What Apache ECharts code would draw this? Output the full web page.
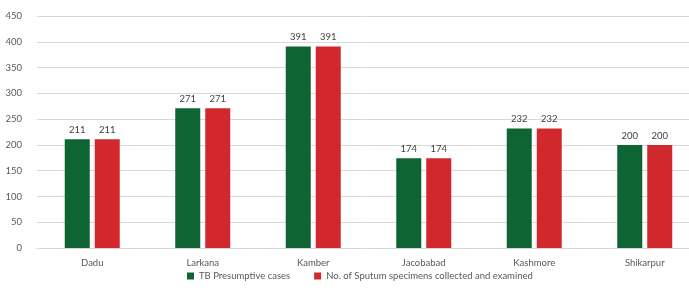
<!DOCTYPE html>
<html>
<head>
<meta charset="utf-8">
<script src="https://cdn.jsdelivr.net/npm/echarts@6/dist/echarts.min.js"></script>
<style>
  html, body { margin: 0; padding: 0; background: #fff; }
  #mainChart { width: 689px; height: 288px; }
</style>
</head>
<body>
<div id="mainChart"></div>
<script>
var districts = ['Dadu', 'Larkana', 'Kamber', 'Jacobabad', 'Kashmore', 'Shikarpur'];
var presumptiveCases = [211, 271, 391, 174, 232, 200];
var sputumSpecimens = [211, 271, 391, 174, 232, 200];
var seriesNames = ['TB Presumptive cases', 'No. of Sputum specimens collected and examined'];

var fontName = 'Lato';

function chartInit() {
  var myChart = echarts.init(document.getElementById('mainChart'));

  var option = {
    animation: false,
    textStyle: { fontFamily: fontName },
    grid: { left: 37, width: 663, top: 16, bottom: 40, outerBoundsMode: 'none' },
    legend: {
      bottom: 2,
      left: 182,
      itemWidth: 7,
      itemHeight: 7,
      itemGap: 24,
      icon: 'rect',
      textStyle: { fontSize: 9.5, color: '#595959', fontFamily: fontName },
      data: seriesNames
    },
    xAxis: {
      type: 'category',
      data: districts,
      axisLine: { show: true, lineStyle: { color: '#d9d9d9', width: 1 } },
      axisTick: { show: false },
      axisLabel: { color: '#595959', fontSize: 9.5, margin: 10 }
    },
    yAxis: {
      type: 'value',
      min: 0,
      max: 450,
      interval: 50,
      axisLine: { show: false },
      axisTick: { show: false },
      axisLabel: { color: '#595959', fontSize: 9.5, margin: 15 },
      splitLine: { lineStyle: { color: '#d9d9d9', width: 1 } }
    },
    series: [
      {
        name: seriesNames[0],
        type: 'bar',
        data: presumptiveCases,
        barWidth: 25,
        barGap: '20%',
        itemStyle: { color: '#0f6434' },
        label: { show: true, position: 'top', fontSize: 9.5, color: '#404040', distance: 4 }
      },
      {
        name: seriesNames[1],
        type: 'bar',
        data: sputumSpecimens,
        barWidth: 25,
        itemStyle: { color: '#d1282d' },
        label: { show: true, position: 'top', fontSize: 9.5, color: '#404040', distance: 4 }
      }
    ]
  };
  myChart.setOption(option);
}

chartInit();
</script>
</body>
</html>
